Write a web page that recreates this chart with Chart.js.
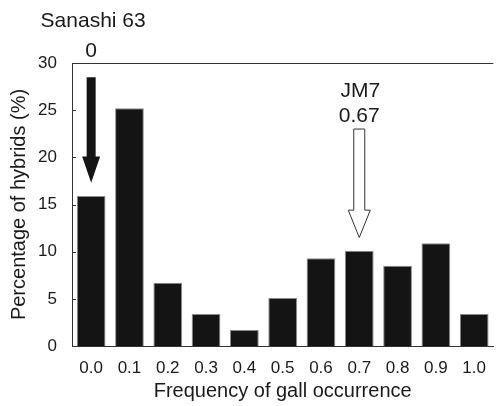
<!DOCTYPE html>
<html>
<head>
<meta charset="utf-8">
<script src="https://cdn.jsdelivr.net/npm/chart.js@4/dist/chart.umd.min.js"></script>
<style>
  html, body { margin: 0; padding: 0; background: #ffffff; }
  #wrap { width: 498px; height: 406px; }
</style>
</head>
<body>
<div id="wrap"><canvas id="c" width="498" height="406"></canvas></div>
<script>
// ---- data ----
const categories = ['0.0', '0.1', '0.2', '0.3', '0.4', '0.5', '0.6', '0.7', '0.8', '0.9', '1.0'];
const percentages = [15.9, 25.2, 6.7, 3.4, 1.7, 5.1, 9.3, 10.1, 8.5, 10.9, 3.4];
const yTicks = [0, 5, 10, 15, 20, 25, 30];

// annotation arrows (category index, values in % units)
const arrowNames = ['Sanashi 63', 'JM7'];
const arrowValues = ['0', '0.67'];
const arrowCategory = [0, 7];
const arrowTop = [28.5, 23.0];
const arrowHeadBase = [20.1, 14.4];
const arrowTip = [17.3, 11.5];
const arrowNameY = [34.4, 27.0];
const arrowValueY = [31.3, 24.4];
const arrowFilled = [true, false];

const FONT = "'Liberation Sans', Arial, Helvetica, sans-serif";

const framePlugin = {
  id: 'frame',
  afterDatasetsDraw(chart) {
    const {ctx, chartArea: a, scales: {x, y}} = chart;
    ctx.save();
    ctx.strokeStyle = '#333333';
    ctx.lineWidth = 1;
    ctx.beginPath();
    ctx.moveTo(a.left, Math.round(a.top) + 0.5);
    ctx.lineTo(a.right, Math.round(a.top) + 0.5);
    ctx.stroke();
    ctx.beginPath();
    yTicks.forEach(v => {
      const py = Math.round(y.getPixelForValue(v)) + 0.5;
      ctx.moveTo(a.left, py);
      ctx.lineTo(a.left + 4, py);
    });
    ctx.stroke();
    ctx.restore();
  },
  afterDraw(chart) {
    const {ctx, scales: {x, y}} = chart;
    ctx.save();
    for (let i = 0; i < arrowNames.length; i++) {
      const cx = x.getPixelForValue(arrowCategory[i]);
      const filled = arrowFilled[i];
      const sw = filled ? 4.5 : 5.5;
      const hw = filled ? 9 : 11;
      const top = y.getPixelForValue(arrowTop[i]);
      const hb = y.getPixelForValue(arrowHeadBase[i]);
      const tip = y.getPixelForValue(arrowTip[i]);
      ctx.beginPath();
      ctx.moveTo(cx - sw, top);
      ctx.lineTo(cx + sw, top);
      ctx.lineTo(cx + sw, hb);
      ctx.lineTo(cx + hw, hb);
      ctx.lineTo(cx, tip);
      ctx.lineTo(cx - hw, hb);
      ctx.lineTo(cx - sw, hb);
      ctx.closePath();
      if (filled) {
        ctx.fillStyle = '#141414';
        ctx.fill();
      } else {
        ctx.fillStyle = '#ffffff';
        ctx.fill();
        ctx.strokeStyle = '#333333';
        ctx.lineWidth = 1;
        ctx.stroke();
      }
      ctx.fillStyle = '#1a1a1a';
      ctx.font = '21px ' + FONT;
      ctx.textAlign = 'center';
      ctx.textBaseline = 'middle';
      ctx.fillText(arrowNames[i], cx + (i === 0 ? 2 : 1), y.getPixelForValue(arrowNameY[i]));
      ctx.fillText(arrowValues[i], cx, y.getPixelForValue(arrowValueY[i]));
    }
    ctx.restore();
  }
};

new Chart(document.getElementById('c'), {
  type: 'bar',
  data: {
    labels: categories,
    datasets: [{
      data: percentages,
      backgroundColor: '#141414',
      borderColor: '#8a8a8a',
      borderWidth: 1,
      barPercentage: 0.75,
      categoryPercentage: 1.0
    }]
  },
  options: {
    responsive: false,
    animation: false,
    devicePixelRatio: 1,
    layout: { padding: { top: 63, right: 0, left: 0, bottom: 0 } },
    plugins: { legend: { display: false }, tooltip: { enabled: false } },
    scales: {
      x: {
        grid: { display: false, drawTicks: false },
        border: { display: true, color: '#333333', width: 1 },
        ticks: { color: '#1a1a1a', font: { family: FONT, size: 17 }, padding: 12, maxRotation: 0, autoSkip: false },
        title: { display: true, text: 'Frequency of gall occurrence', color: '#1a1a1a', font: { family: FONT, size: 20 }, padding: { top: 0, bottom: 3 } },
        afterFit(scale) { scale.height = 60; }
      },
      y: {
        min: 0, max: 30,
        afterBuildTicks(scale) { scale.ticks = yTicks.map(v => ({ value: v })); },
        grid: { display: false, drawTicks: false },
        border: { display: true, color: '#333333', width: 1 },
        ticks: { color: '#1a1a1a', font: { family: FONT, size: 17 }, padding: 15 },
        title: { display: true, text: 'Percentage of hybrids (%)', color: '#1a1a1a', font: { family: FONT, size: 20 }, padding: { top: 7, bottom: 0 } },
        afterFit(scale) { scale.width = 72; }
      }
    }
  },
  plugins: [framePlugin]
});
</script>
</body>
</html>
